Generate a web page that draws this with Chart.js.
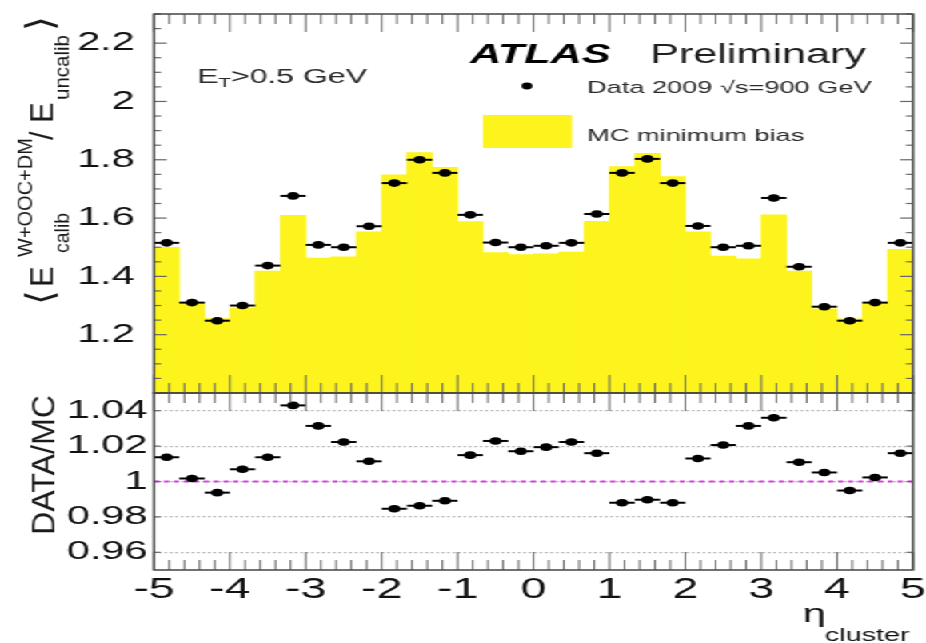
<!DOCTYPE html>
<html><head><meta charset="utf-8">
<script src="https://cdn.jsdelivr.net/npm/chart.js@4"></script>
<style>
html,body{margin:0;padding:0;background:#fff;width:926px;height:643px;overflow:hidden}
#wrap{position:absolute;left:0;top:0;width:579px;height:643px;transform:scaleX(1.599309);transform-origin:0 0}
#c1{position:absolute;left:0;top:0}
#c2{position:absolute;left:0;top:380px}
</style></head><body>
<div id="wrap"><canvas id="c1" width="579" height="406"></canvas><canvas id="c2" width="579" height="263"></canvas></div>
<script>
// ---------------- DATA ----------------
const etaEdges = [-5, -4.6667, -4.3333, -4, -3.6667, -3.3333, -3, -2.6667, -2.3333, -2, -1.6667, -1.3333, -1, -0.6667, -0.3333, 0,
                  0.3333, 0.6667, 1, 1.3333, 1.6667, 2, 2.3333, 2.6667, 3, 3.3333, 3.6667, 4, 4.3333, 4.6667, 5];
const dataMean = [1.515, 1.310, 1.248, 1.300, 1.437, 1.676, 1.508, 1.500, 1.572, 1.720, 1.800, 1.755, 1.611, 1.516, 1.500,
                  1.505, 1.515, 1.614, 1.755, 1.803, 1.720, 1.573, 1.500, 1.505, 1.669, 1.433, 1.296, 1.248, 1.310, 1.515];
const mcMean   = [1.500, 1.307, 1.255, 1.291, 1.418, 1.609, 1.463, 1.467, 1.553, 1.748, 1.825, 1.774, 1.588, 1.482, 1.475,
                  1.477, 1.483, 1.589, 1.777, 1.822, 1.742, 1.553, 1.470, 1.460, 1.611, 1.418, 1.289, 1.254, 1.307, 1.493];
const ratioDataMC = [1.0137, 1.0017, 0.9937, 1.0069, 1.0137, 1.0430, 1.0314, 1.0223, 1.0114, 0.9846, 0.9863, 0.9891, 1.0149, 1.0229, 1.0171,
                     1.0194, 1.0223, 1.0160, 0.9880, 0.9897, 0.9880, 1.0130, 1.0206, 1.0314, 1.0360, 1.0109, 1.0051, 0.9949, 1.0023, 1.0160];
const xTickValues = [-5, -4, -3, -2, -1, 0, 1, 2, 3, 4, 5];
const xTickLabels = ['-5', '-4', '-3', '-2', '-1', '0', '1', '2', '3', '4', '5'];
const topYTickValues = [1.2, 1.4, 1.6, 1.8, 2.0, 2.2];
const topYTickLabels = ['1.2', '1.4', '1.6', '1.8', '2', '2.2'];
const ratioYTickValues = [0.96, 0.98, 1.0, 1.02, 1.04];
const ratioYTickLabels = ['0.96', '0.98', '1', '1.02', '1.04'];
const unityRatio = 1;

// ---------------- LAYOUT (virtual coords, stretched horizontally) ----------------
const SX = 926 / 579;
const LEFT = 154 / SX;
const RIGHTPAD = 579 - 913 / SX;
const FONT = "'Liberation Sans', Arial, Helvetica, sans-serif";

const centers = etaEdges.slice(0, -1).map((e, i) => (e + etaEdges[i + 1]) / 2);

function line(ctx, x1, y1, x2, y2) { ctx.beginPath(); ctx.moveTo(x1, y1); ctx.lineTo(x2, y2); ctx.stroke(); }

function framePlugin(cfg) {
  return {
    id: 'frame' + cfg.name,
    afterDatasetsDraw(chart) {
      const { ctx, chartArea: a, scales: { x, y } } = chart;
      ctx.save();
      ctx.strokeStyle = '#666';
      ctx.lineWidth = 1;
      for (let k = 0; k <= 50; k++) {
        const v = -5 + k * 0.2;
        const px = x.getPixelForValue(v);
        const len = (k % 5 === 0) ? cfg.xMajor : cfg.xMinor;
        line(ctx, px, a.bottom, px, a.bottom - len);
        line(ctx, px, a.top, px, a.top + len);
      }
      ctx.lineWidth = 1.2;
      for (let k = 0; k <= cfg.yN; k++) {
        const v = cfg.y0 + k * cfg.yStep;
        const py = y.getPixelForValue(v);
        const len = (k % cfg.yMajorEvery === cfg.yMajorOffset) ? cfg.yMajor : cfg.yMinor;
        line(ctx, a.left, py, a.left + len, py);
        line(ctx, a.right, py, a.right - len, py);
      }
      ctx.strokeStyle = '#444';
      ctx.lineWidth = 1.5;
      ctx.strokeRect(a.left, a.top, a.right - a.left, a.bottom - a.top);
      ctx.restore();
    }
  };
}

function errorBarPlugin(values, afterIndex) {
  return {
    id: 'xerr' + afterIndex,
    afterDatasetDraw(chart, args) {
      if (args.index !== afterIndex) return;
      const { ctx, scales: { x, y } } = chart;
      ctx.save();
      ctx.strokeStyle = '#000';
      ctx.lineWidth = 2;
      values.forEach((v, i) => {
        const py = y.getPixelForValue(v);
        line(ctx, x.getPixelForValue(etaEdges[i]), py, x.getPixelForValue(etaEdges[i + 1]), py);
      });
      ctx.restore();
    }
  };
}

const topTextPlugin = {
  id: 'topText',
  afterDraw(chart) {
    const ctx = chart.ctx;
    ctx.save();
    ctx.textBaseline = 'alphabetic';
    ctx.textAlign = 'left';
    // E_T > 0.5 GeV
    ctx.fillStyle = '#2a2a2a';
    let xv = 197 / SX;
    ctx.font = '20px ' + FONT; ctx.fillText('E', xv, 83); xv += ctx.measureText('E').width;
    ctx.font = '13px ' + FONT; ctx.fillText('T', xv, 87); xv += ctx.measureText('T').width;
    ctx.font = '20px ' + FONT; ctx.fillText('>0.5 GeV', xv, 83);
    // ATLAS Preliminary
    ctx.fillStyle = '#000';
    ctx.font = 'italic bold 27px ' + FONT; ctx.fillText('ATLAS', 470 / SX, 63);
    ctx.fillStyle = '#1e1e1e';
    ctx.font = '27px ' + FONT; ctx.fillText('Preliminary', 650 / SX, 63);
    // legend
    ctx.fillStyle = '#000';
    ctx.beginPath(); ctx.arc(527 / SX, 86, 3.4, 0, Math.PI * 2); ctx.fill();
    ctx.fillStyle = '#2a2a2a';
    ctx.font = '17px ' + FONT; ctx.fillText('Data 2009 \u221As=900 GeV', 587 / SX, 93);
    ctx.fillStyle = '#fcf41c';
    ctx.fillRect(483 / SX, 115, (572 - 483) / SX, 33);
    ctx.fillStyle = '#2a2a2a';
    ctx.font = '17px ' + FONT; ctx.fillText('MC minimum bias', 587 / SX, 141);

    // rotated y title, drawn in real pixel space
    ctx.scale(1 / SX, 1);
    ctx.translate(53, 305);
    ctx.rotate(-Math.PI / 2);
    ctx.fillStyle = '#1a1a1a';
    const big = '31px ' + FONT, small = '20px ' + FONT;
    const br = "38px 'DejaVu Sans', sans-serif";
    ctx.font = br; ctx.fillText('\u27E8', 0, 0);
    ctx.font = big; ctx.fillText('E', 18, 0);
    ctx.font = small; ctx.fillText('W+OOC+DM', 48, -21);
    ctx.font = '19.5px ' + FONT; ctx.fillText('calib', 52, 15);
    ctx.font = big; ctx.fillText('/', 165, 0);
    ctx.font = big; ctx.fillText('E', 182, 0);
    ctx.font = '20.5px ' + FONT; ctx.fillText('uncalib', 205, 15);
    ctx.font = br; ctx.fillText('\u27E9', 274, 0);
    ctx.restore();
  }
};

const bottomTextPlugin = {
  id: 'bottomText',
  afterDraw(chart) {
    const ctx = chart.ctx;
    ctx.save();
    ctx.textBaseline = 'alphabetic';
    ctx.textAlign = 'left';
    ctx.fillStyle = '#111';
    // eta_cluster
    ctx.font = '26px ' + FONT; ctx.fillText('\u03B7', 803 / SX, 242);
    ctx.font = '18px ' + FONT; ctx.fillText('cluster', 825 / SX, 261);
    // DATA/MC rotated, real pixel space
    ctx.scale(1 / SX, 1);
    ctx.translate(55, 535 - 380);
    ctx.rotate(-Math.PI / 2);
    ctx.font = '33px ' + FONT;
    ctx.fillStyle = '#1a1a1a';
    ctx.fillText('DATA/MC', 0, 0, 140);
    ctx.restore();
  }
};

const tickFontY = { family: FONT, size: 26, lineHeight: 1 };
const tickFontX = { family: FONT, size: 29, lineHeight: 1 };

// ---------------- TOP PANEL ----------------
new Chart(document.getElementById('c1'), {
  type: 'bar',
  data: {
    datasets: [
      { type: 'scatter', data: centers.map((c, i) => ({ x: c, y: dataMean[i] })),
        pointRadius: 3.8, pointHoverRadius: 3.8, pointBackgroundColor: '#000', pointBorderWidth: 0, showLine: false },
      { type: 'bar', data: centers.map((c, i) => ({ x: c, y: mcMean[i] })),
        backgroundColor: '#fcf41c', borderWidth: 0, barPercentage: 1, categoryPercentage: 1, grouped: false }
    ]
  },
  options: {
    responsive: false, animation: false, devicePixelRatio: 1,
    layout: { padding: { left: 0, right: RIGHTPAD, top: 14, bottom: 13 } },
    plugins: { legend: { display: false }, tooltip: { enabled: false } },
    events: [],
    scales: {
      x: { type: 'linear', min: -5, max: 5, offset: false, grid: { display: false }, border: { display: false },
           ticks: { display: false },
           afterFit(s) { s.height = 0; s.paddingLeft = 0; s.paddingRight = 0; } },
      y: { type: 'linear', min: 1.0, max: 2.3, grid: { display: false }, border: { display: false },
           afterBuildTicks(s) { s.ticks = topYTickValues.map(v => ({ value: v })); },
           ticks: { callback: (v, i) => topYTickLabels[i], font: tickFontY, color: '#111', padding: 4 },
           afterFit(s) { s.width = LEFT; s.paddingTop = 0; s.paddingBottom = 0; } }
    }
  },
  plugins: [
    errorBarPlugin(dataMean, 1),
    framePlugin({ name: 'top', xMajor: 18, xMinor: 10, y0: 1.0, yStep: 0.05, yN: 26, yMajorEvery: 4, yMajorOffset: 0, yMajor: 8, yMinor: 4.4 }),
    topTextPlugin
  ]
});

// ---------------- RATIO PANEL ----------------
new Chart(document.getElementById('c2'), {
  type: 'scatter',
  data: {
    datasets: [
      { type: 'scatter', data: centers.map((c, i) => ({ x: c, y: ratioDataMC[i] })),
        pointRadius: 3.8, pointHoverRadius: 3.8, pointBackgroundColor: '#000', pointBorderWidth: 0, showLine: false },
      { type: 'line', data: [{ x: -5, y: unityRatio }, { x: 5, y: unityRatio }],
        borderColor: '#d63ae0', borderWidth: 2, borderDash: [3.2, 3], pointRadius: 0, fill: false }
    ]
  },
  options: {
    responsive: false, animation: false, devicePixelRatio: 1,
    layout: { padding: { left: 0, right: RIGHTPAD, top: 13, bottom: 0 } },
    plugins: { legend: { display: false }, tooltip: { enabled: false } },
    events: [],
    scales: {
      x: { type: 'linear', min: -5, max: 5, offset: false, grid: { display: false }, border: { display: false },
           afterBuildTicks(s) { s.ticks = xTickValues.map(v => ({ value: v })); },
           ticks: { callback: (v, i) => xTickLabels[i], font: tickFontX, color: '#111', padding: -3, maxRotation: 0, autoSkip: false },
           afterFit(s) { s.height = 73; s.paddingLeft = 0; s.paddingRight = 0; } },
      y: { type: 'linear', min: 0.95, max: 1.05,
           grid: { color: '#b0b0b0', lineWidth: 1.2, drawTicks: false },
           border: { display: false, dash: [1.6, 1.8] },
           afterBuildTicks(s) { s.ticks = ratioYTickValues.map(v => ({ value: v })); },
           ticks: { callback: (v, i) => ratioYTickLabels[i], font: tickFontY, color: '#111', padding: 4 },
           afterFit(s) { s.width = LEFT; s.paddingTop = 0; s.paddingBottom = 0; } }
    }
  },
  plugins: [
    errorBarPlugin(ratioDataMC, 1),
    framePlugin({ name: 'bot', xMajor: 18, xMinor: 10, y0: 0.96, yStep: 0.02, yN: 4, yMajorEvery: 1, yMajorOffset: 0, yMajor: 4, yMinor: 4 }),
    bottomTextPlugin
  ]
});
</script>
</body></html>
